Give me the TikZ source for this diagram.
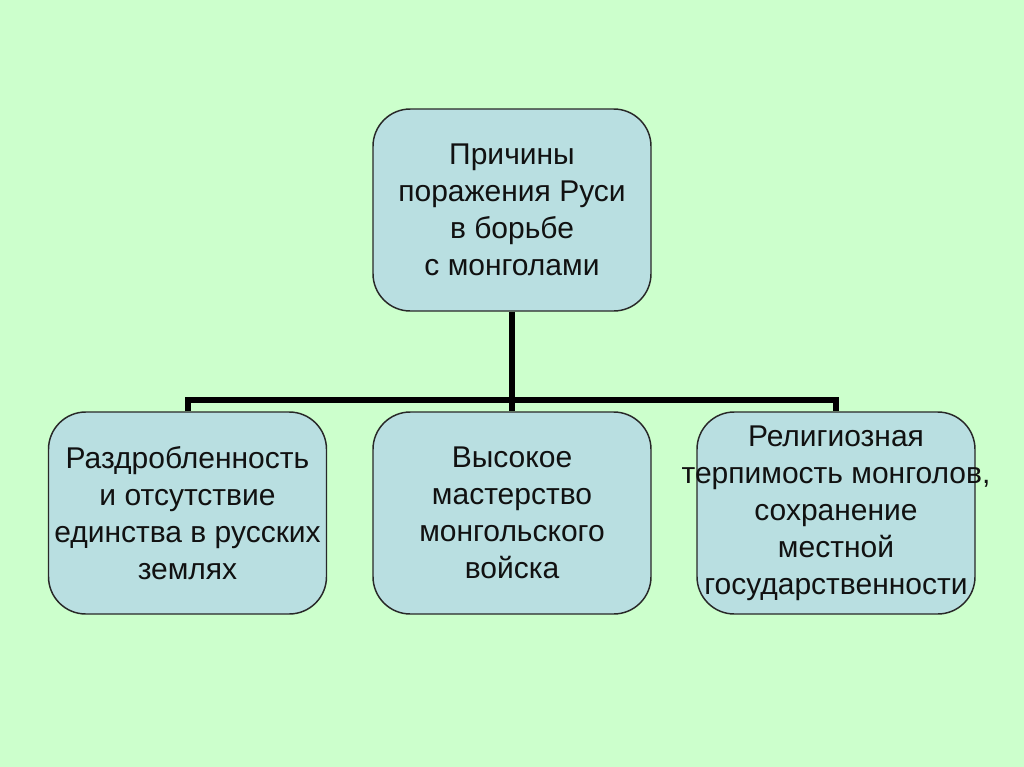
\documentclass[tikz,border=0pt]{standalone}
\usepackage{fontspec}
\setmainfont{Liberation Sans}
\definecolor{bg}{RGB}{204,255,204}
\definecolor{boxfill}{RGB}{185,223,225}
\definecolor{boxline}{RGB}{40,40,40}
\definecolor{txt}{RGB}{17,17,17}
\begin{document}
\begin{tikzpicture}[x=0.75pt,y=-0.75pt,
  box/.style={draw=boxline, line width=1.1pt, fill=boxfill, rounded corners=28pt,
    minimum width=208.5pt, minimum height=151.5pt, inner sep=0pt, align=center,
    text=txt, font=\fontsize{22.5}{27.75}\selectfont},
  conn/.style={draw=black, line width=4.5pt}]
\fill[bg] (0,0) rectangle (1024,767);
\useasboundingbox (0,0) rectangle (1024,767);
\node[box] (top) at (512,210) {Причины\\поражения Руси\\в борьбе\\с монголами};
\node[box] (left) at (187.5,513) {Раздробленность\\и отсутствие\\единства в русских\\землях};
\node[box] (mid) at (512,513) {Высокое\\мастерство\\монгольского\\войска};
\node[box] (right) at (836,513) {Религиозная\\\makebox[0pt]{терпимость монголов,}\\сохранение\\местной\\\makebox[0pt]{государственности}};
\coordinate (j) at (512,400);
\draw[conn] (top.south) -- (mid.north);
\draw[conn] (left.north) -- (left.north |- j) -- (right.north |- j) -- (right.north);
\end{tikzpicture}
\end{document}
